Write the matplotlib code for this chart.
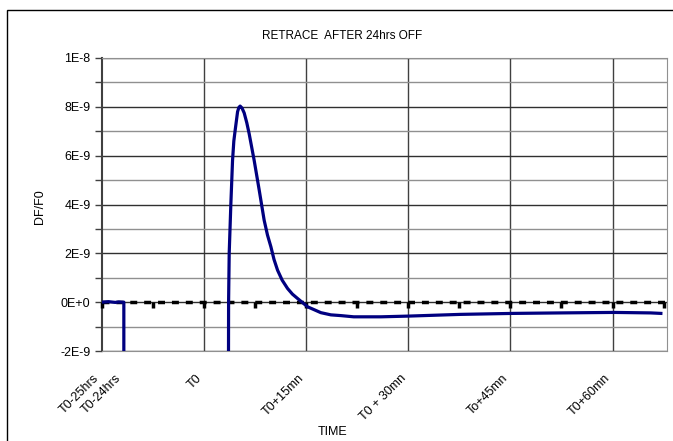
import numpy as np
import matplotlib
matplotlib.use('Agg')
import matplotlib.pyplot as plt
from matplotlib.patches import Rectangle

plt.rcParams['font.family'] = ['Liberation Sans', 'DejaVu Sans']

# time in minutes relative to T0, signal DF/F0 (values below -2E-9 are off scale)
time_min = [-15.0, -14.0, -13.0, -12.5, -12.0, -11.75, -11.75, 3.48,
            3.63, 3.72, 3.96, 4.21, 4.40, 4.60, 4.95, 5.15, 5.33, 5.60, 5.92, 6.30, 6.65, 7.39,
            8.12, 8.85, 9.34, 9.84, 10.30, 10.82, 11.5, 12.29, 13.0, 13.76, 15.23, 17.18, 18.65,
            20.1, 22.0, 26.0, 30.1, 37.7, 45.4, 52.4, 60.2, 65.6, 67.1]
df_f0 = [0.0, 0.02e-9, -0.01e-9, 0.01e-9, 0.0, 0.0, -2.5e-8, -2.5e-8,
         0.0, 2.0e-9, 4.0e-9, 5.8e-9, 6.6e-9, 7.05e-9, 7.8e-9, 7.98e-9, 8.03e-9, 7.95e-9, 7.75e-9, 7.35e-9, 6.9e-9, 5.8e-9,
         4.6e-9, 3.36e-9, 2.75e-9, 2.27e-9, 1.75e-9, 1.31e-9, 0.9e-9, 0.56e-9, 0.33e-9, 0.15e-9, -0.19e-9, -0.43e-9, -0.52e-9,
         -0.55e-9, -0.6e-9, -0.6e-9, -0.57e-9, -0.5e-9, -0.46e-9, -0.44e-9, -0.42e-9, -0.44e-9, -0.46e-9]

label_pos = [-15.0, -11.75, 0, 15, 30, 45, 60]
label_txt = ['T0-25hrs', 'T0-24hrs', 'T0', 'T0+15mn', 'T0 + 30mn', 'To+45mn', 'T0+60mn']
grid_x = [0, 15, 30, 45, 60]
zero_ticks = np.arange(-15, 68.1, 7.5)
y_major = np.arange(-2e-9, 1.01e-8, 2e-9)
y_labels = ['-2E-9', '0E+0', '2E-9', '4E-9', '6E-9', '8E-9', '1E-8']
y_minor = np.arange(-2e-9, 1.01e-8, 1e-9)

fig = plt.figure(figsize=(6.73, 4.41), dpi=100)
ax = fig.add_axes([101.7 / 673, 1 - 351 / 441, (667 - 101.7) / 673, (351 - 58) / 441])

ax.set_xlim(-15, 68)
ax.set_ylim(-2e-9, 1e-8)

# grid
ax.xaxis.remove_overlapping_locs = False
ax.set_xticks(grid_x, minor=True)
ax.set_xticks(label_pos)
ax.set_xticklabels(label_txt, rotation=45, ha='right', va='top', fontsize=9)
ax.tick_params(axis='x', which='both', length=0, pad=15)
ax.set_yticks(y_major)
ax.set_yticklabels(y_labels, fontsize=9)
ax.set_yticks(y_minor, minor=True)
ax.tick_params(axis='y', which='both', direction='out', length=5, width=1, color='#404040', pad=3)
ax.grid(which='minor', axis='x', color='#404040', lw=1)
ax.grid(which='major', axis='y', color='#303030', lw=1)
ax.grid(which='minor', axis='y', color='#909090', lw=1)
ax.set_axisbelow(True)

for s in ['top', 'right', 'bottom']:
    ax.spines[s].set_color('#909090')
ax.spines['left'].set_color('#404040')
ax.spines['left'].set_linewidth(1.5)

# zero axis: heavy dotted line with tick marks
ax.axhline(0, color='black', lw=2.5, ls=(0, (2, 2)), zorder=3)
ax.plot(zero_ticks, np.zeros(len(zero_ticks)), ls='none', marker=3, ms=4, mew=2.5,
        color='black', zorder=3, clip_on=False)

ax.plot(time_min, df_f0, color='#000080', lw=2.3, zorder=4)

fig.text(342 / 673, 1 - 36 / 441, 'RETRACE  AFTER 24hrs OFF', ha='center', va='center', fontsize=8.5)
fig.text(40 / 673, 1 - 207 / 441, 'DF/F0', rotation=90, ha='center', va='center', fontsize=9)
fig.text(333 / 673, 1 - 432 / 441, 'TIME', ha='center', va='center', fontsize=9)

fig.add_artist(Rectangle((6.5 / 673, -0.1), 1.2, (441 - 9.5) / 441 + 0.1,
                         transform=fig.transFigure, fill=False, ec='black', lw=1))

fig.savefig('out.png', dpi=100)
